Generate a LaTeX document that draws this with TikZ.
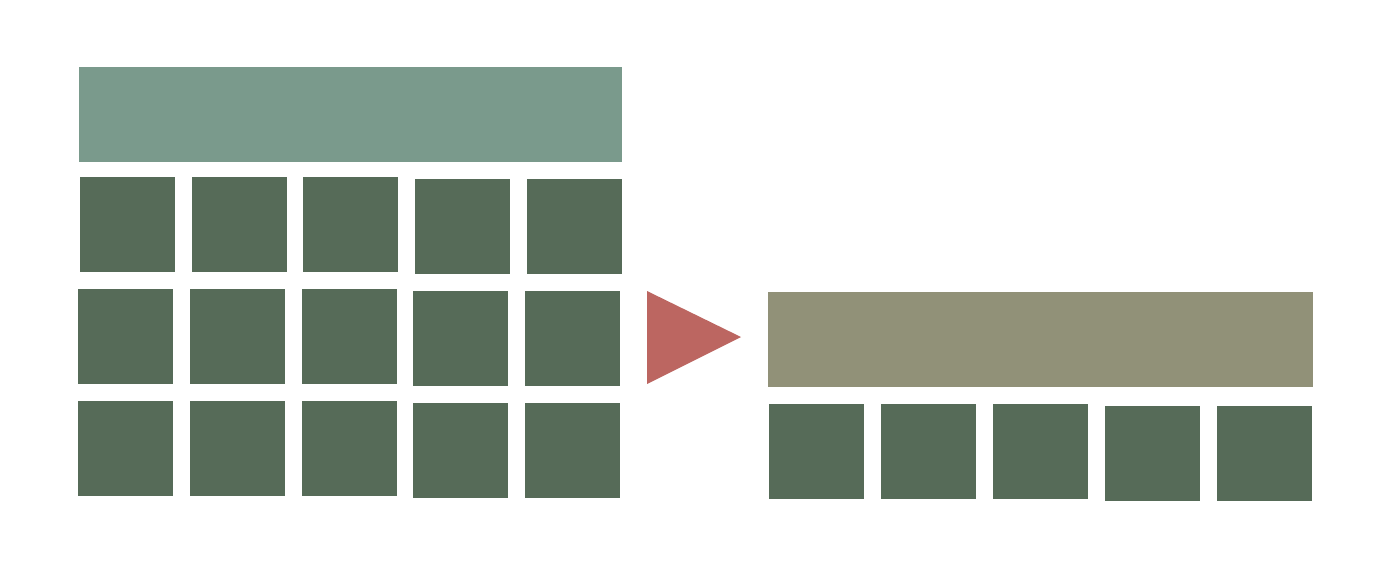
\documentclass[tikz,border=0pt]{standalone}
\usepackage{tikz}
\usetikzlibrary{positioning}
\definecolor{headgreen}{HTML}{7A9A8C}
\definecolor{cellgreen}{HTML}{566B58}
\definecolor{headolive}{HTML}{919178}
\definecolor{arrowred}{HTML}{BC6661}
\begin{document}
\begin{tikzpicture}[x=1pt,y=-1pt]
		\tikzstyle{cell}=[fill=cellgreen,inner sep=0pt,minimum width=95pt,minimum height=95pt]
		\tikzstyle{bar}=[inner sep=0pt,minimum height=95pt]
		\useasboundingbox (0,0) rectangle (1390,584);
		% table on the left
		\node[bar, fill=headgreen, minimum width=543pt] (head) at (350.5,114.3) {};
		\node[cell] (a1) at (127.5,224.5) {};
		\node[cell] (a2) at (239,224.5) {};
		\node[cell] (a3) at (350.5,224.5) {};
		\node[cell] (a4) at (462.5,226.5) {};
		\node[cell] (a5) at (574.5,226.5) {};
		\node[cell] (b1) at (125.5,336.5) {};
		\node[cell] (b2) at (237.5,336.5) {};
		\node[cell] (b3) at (349,336.5) {};
		\node[cell] (b4) at (460.5,338.5) {};
		\node[cell] (b5) at (572.5,338.5) {};
		\node[cell] (c1) at (125.5,448.5) {};
		\node[cell] (c2) at (237.5,448.5) {};
		\node[cell] (c3) at (349,448.5) {};
		\node[cell] (c4) at (460.5,450.5) {};
		\node[cell] (c5) at (572.5,450.5) {};
		% arrow head
		\coordinate (t1) at (647,291);
		\coordinate (t2) at (741,337);
		\coordinate (t3) at (647,384);
		\fill[arrowred] (t1) -- (t2) -- (t3) -- cycle;
		% single row on the right
		\node[bar, fill=headolive, minimum width=545pt] (res) at (1040.5,339.5) {};
		\node[cell] (r1) at (816.5,451.5) {};
		\node[cell] (r2) at (928.5,451.5) {};
		\node[cell] (r3) at (1040.5,451.5) {};
		\node[cell] (r4) at (1152.5,453.5) {};
		\node[cell] (r5) at (1264.5,453.5) {};
	\end{tikzpicture}
\end{document}
